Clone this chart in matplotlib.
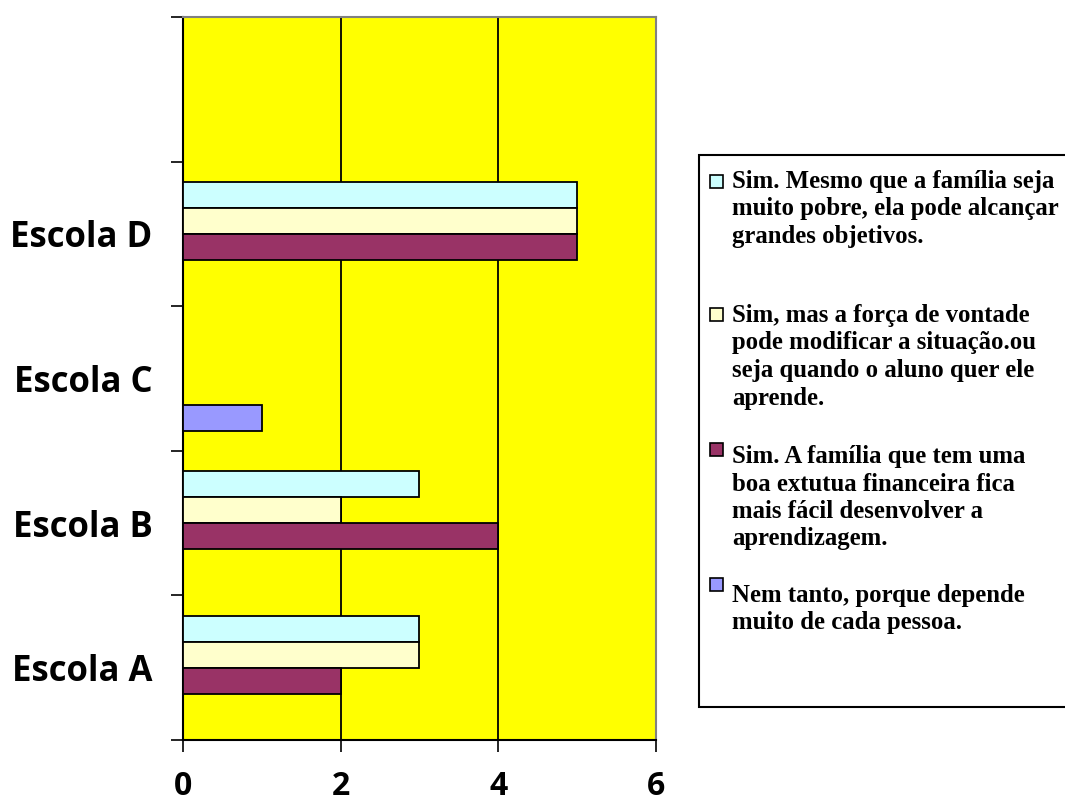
import matplotlib.pyplot as plt
from matplotlib.patches import Rectangle
import numpy as np

# respostas por escola (número de alunos)
escolas = ["Escola A", "Escola B", "Escola C", "Escola D", ""]
mesmo_pobre = [3, 3, 0, 5, 0]
forca_vontade = [3, 2, 0, 5, 0]
estrutura_financeira = [2, 4, 0, 5, 0]
nem_tanto = [0, 0, 1, 0, 0]

respostas = [
    "Sim. Mesmo que a família seja\nmuito pobre, ela pode alcançar\ngrandes objetivos.",
    "Sim, mas a força de vontade\npode modificar a situação.ou\nseja quando o aluno quer ele\naprende.",
    "Sim. A família que tem uma\nboa extutua financeira fica\nmais fácil desenvolver a\naprendizagem.",
    "Nem tanto, porque depende\nmuito de cada pessoa.",
]
cores = ["#CCFFFF", "#FFFFCC", "#993366", "#9999FF"]

W, H = 1065, 806
fig = plt.figure(figsize=(W / 100, H / 100), dpi=100)
ax = fig.add_axes([183 / W, 1 - 740 / H, (656 - 183) / W, (740 - 17) / H])
ax.set_facecolor("#FFFF00")

y = np.arange(len(escolas))
h = 0.18
series = [mesmo_pobre, forca_vontade, estrutura_financeira, nem_tanto]
for k, (vals, cor) in enumerate(zip(series, cores)):
    ax.barh(y + (1.5 - k) * h, vals, height=h, color=cor,
            edgecolor="black", linewidth=1.3, zorder=3)

ax.set_xlim(0, 6)
ax.set_ylim(-0.5, len(escolas) - 0.5)
ax.set_axisbelow(True)
ax.grid(axis="x", color="black", linewidth=1.3)

ax.set_xticks([0, 2, 4, 6])
ax.set_xticklabels(["0", "2", "4", "6"], fontsize=23, fontweight="bold",
                   family="Open Sans")
ax.set_yticks(np.arange(-0.5, len(escolas), 1.0))
ax.set_yticklabels([])
ax.set_yticks(y, minor=True)
ax.set_yticklabels(escolas, minor=True, fontsize=25, fontweight="bold",
                   family="Open Sans")
ax.tick_params(axis="y", which="minor", length=0, pad=22)
ax.tick_params(axis="y", which="major", length=8.6, width=1.2)
ax.tick_params(axis="x", length=8.6, width=1.2, pad=13)

for s in ["left", "bottom"]:
    ax.spines[s].set_color("black")
    ax.spines[s].set_linewidth(1.5)
for s in ["top", "right"]:
    ax.spines[s].set_color("#808080")
    ax.spines[s].set_linewidth(1.5)

# legenda desenhada à mão: marcador alinhado com a primeira linha
fig.patches.append(Rectangle((699 / W, 1 - 707 / H), (W - 699 + 10) / W,
                             (707 - 155) / H, transform=fig.transFigure,
                             facecolor="white", edgecolor="black",
                             linewidth=1.5))
topo_texto = [170, 304, 445, 584]
topo_marca = [175, 308, 443, 578]
for txt, cor, ty, my in zip(respostas, cores, topo_texto, topo_marca):
    fig.patches.append(Rectangle((710 / W, 1 - (my + 13) / H), 13 / W, 13 / H,
                                 transform=fig.transFigure, facecolor=cor,
                                 edgecolor="black", linewidth=1.2))
    fig.text(732 / W, 1 - ty / H, txt, fontsize=17.8, fontweight="bold",
             family="Liberation Serif", va="top", ha="left", linespacing=1.25)

fig.savefig("out.png", dpi=100)
